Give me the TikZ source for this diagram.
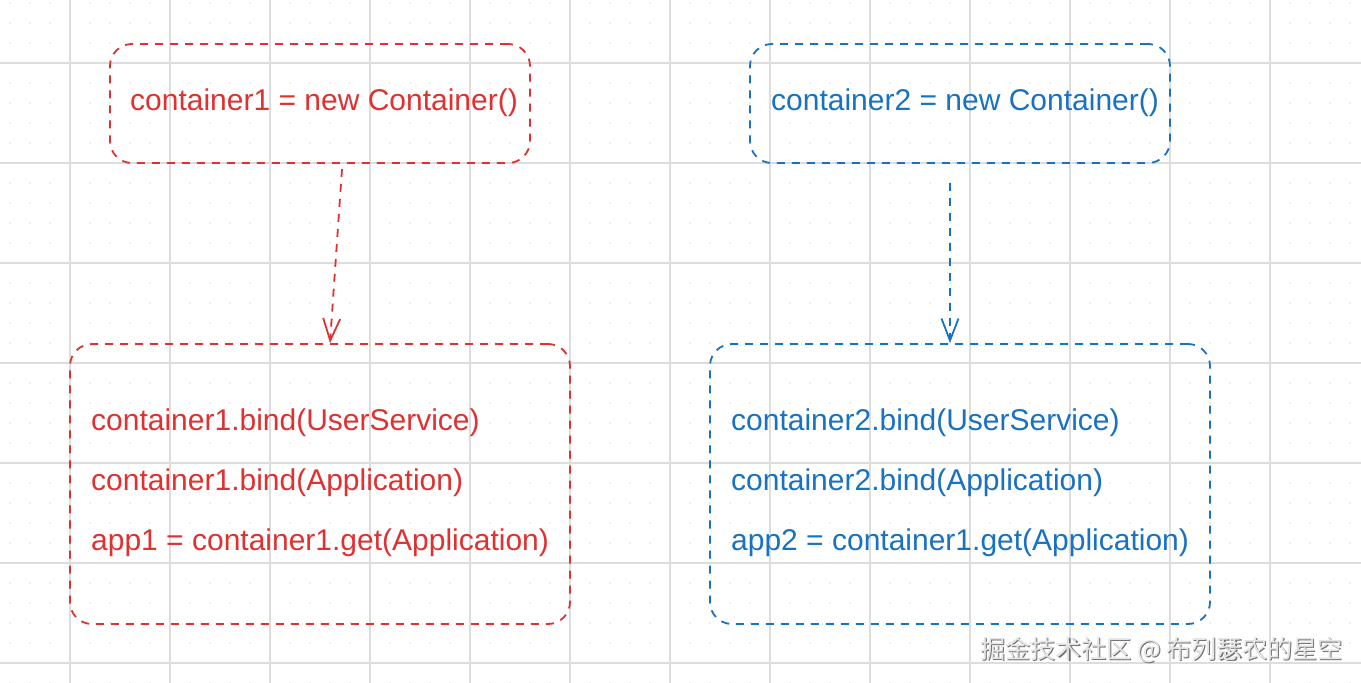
\documentclass[tikz,border=0pt]{standalone}
\usepackage{fontspec}
\setmainfont{Liberation Sans}
\newfontfamily\cjk{Noto Sans CJK SC}
\usetikzlibrary{arrows.meta}
\definecolor{exred}{HTML}{E03131}
\definecolor{exblue}{HTML}{1971C2}
\definecolor{gridmaj}{HTML}{DDDDDD}
\definecolor{griddot}{HTML}{EEEEEE}
\begin{document}
\begin{tikzpicture}[x=1pt,y=-1pt,
  sketchbox/.style={draw, line width=1.8pt, dash pattern=on 8pt off 7pt, rounded corners=22pt, inner sep=0pt, outer sep=0pt},
  codetxt/.style={anchor=base west, inner sep=0pt, font=\fontsize{30}{35}\selectfont},
  conn/.style={line width=1.8pt, dash pattern=on 8pt off 7pt, -{Straight Barb[length=22pt,width=17pt,line width=1.8pt]}},
  wmark/.style={anchor=base west, inner sep=0pt, font=\cjk\fontsize{25.2}{30}\selectfont}]
\useasboundingbox (0,0) rectangle (1361,683);
\fill[white] (0,0) rectangle (1361,683);
% minor dots
\foreach \yy in {3,23,...,683}{
  \draw[griddot, line width=1.3pt, dash pattern=on 1.3pt off 18.7pt] (9.35,\yy) -- (1361,\yy);
}
% major grid
\foreach \xx in {70,170,...,1270}{
  \draw[gridmaj, line width=1.5pt] (\xx,0) -- (\xx,683);
}
\foreach \yy in {63,163,...,663}{
  \draw[gridmaj, line width=1.5pt] (0,\yy) -- (1361,\yy);
}
% boxes
\node[sketchbox, exred, minimum width=420pt, minimum height=119pt] (r1) at (320,103.5) {};
\node[sketchbox, exblue, minimum width=420pt, minimum height=119pt] (b1) at (960,103.5) {};
\node[sketchbox, exred, minimum width=500pt, minimum height=280pt] (r2) at (320,484) {};
\node[sketchbox, exblue, minimum width=500pt, minimum height=280pt] (b2) at (960,484) {};
% texts
\node[codetxt, text=exred] (r1t) at (130,110) {container1 = new Container()};
\node[codetxt, text=exblue] (b1t) at (771,110) {container2 = new Container()};
\node[codetxt, text=exred] (r2a) at (91,430) {container1.bind(UserService)};
\node[codetxt, text=exred] (r2b) at (91,490) {container1.bind(Application)};
\node[codetxt, text=exred] (r2c) at (91,550) {app1 = container1.get(Application)};
\node[codetxt, text=exblue] (b2a) at (731,430) {container2.bind(UserService)};
\node[codetxt, text=exblue] (b2b) at (731,490) {container2.bind(Application)};
\node[codetxt, text=exblue] (b2c) at (731,550) {app2 = container1.get(Application)};
% connectors
\draw[conn, exred] ([xshift=22pt,yshift=-6pt]r1.south) -- ([xshift=10pt,yshift=1pt]r2.north);
\draw[conn, exblue] ([xshift=-10pt,yshift=-20pt]b1.south) -- ([xshift=-10pt,yshift=1pt]b2.north);
% watermark
\node[wmark, text=black!55] (wms) at (981.2,659.2) {掘金技术社区 @ 布列瑟农的星空};
\node[wmark, text=black!10] (wm) at (980,658) {掘金技术社区 @ 布列瑟农的星空};
\end{tikzpicture}
\end{document}
